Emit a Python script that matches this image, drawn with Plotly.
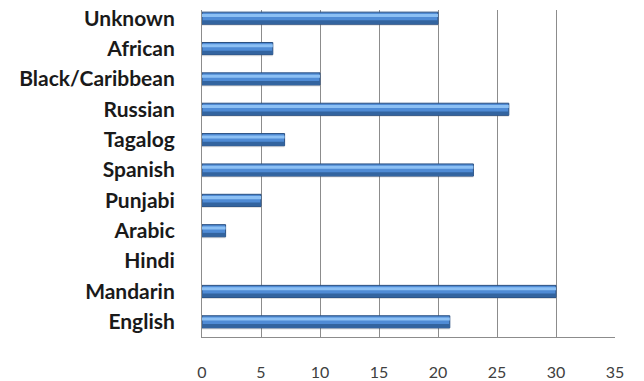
import plotly.graph_objects as go

categories = ["English", "Mandarin", "Hindi", "Arabic", "Punjabi", "Spanish",
              "Tagalog", "Russian", "Black/Caribbean", "African", "Unknown"]
values = [21, 30, 0, 2, 5, 23, 7, 26, 10, 6, 20]
x_ticks = [0, 5, 10, 15, 20, 25, 30, 35]

edge_w = [1 if v > 0 else 0 for v in values]

fig = go.Figure()
# shadow
fig.add_trace(go.Bar(y=categories, x=values, orientation="h", width=0.42, offset=-0.25,
                     marker=dict(color="rgba(120,120,120,0.22)", line=dict(width=0)),
                     hoverinfo="skip", showlegend=False))
# main body
fig.add_trace(go.Bar(y=categories, x=values, orientation="h", width=0.4, offset=-0.2,
                     marker=dict(color="#4F8BD5", line=dict(color="#2A4F80", width=edge_w)),
                     showlegend=False))
# dark lower band
fig.add_trace(go.Bar(y=categories, x=values, orientation="h", width=0.12, offset=-0.19,
                     marker=dict(color="#33649F", line=dict(width=0)),
                     hoverinfo="skip", showlegend=False))
# light highlight band
fig.add_trace(go.Bar(y=categories, x=values, orientation="h", width=0.1, offset=0.04,
                     marker=dict(color="#8CC0F4", line=dict(width=0)),
                     hoverinfo="skip", showlegend=False))

fig.update_layout(
    barmode="overlay",
    width=644, height=381,
    margin=dict(l=202, r=29, t=10, b=44),
    paper_bgcolor="white", plot_bgcolor="white",
    font=dict(family="Lato, Open Sans, sans-serif"),
)
fig.update_xaxes(range=[0, 35], tickvals=x_ticks, showgrid=True, gridcolor="#8C8C8C",
                 gridwidth=1, showline=True, linecolor="#8C8C8C", zeroline=False,
                 automargin=False, ticklabelstandoff=21,
                 tickfont=dict(size=16, color="#404040", family="Lato, sans-serif"))
fig.update_yaxes(categoryorder="array", categoryarray=categories, showgrid=False,
                 showline=True, linecolor="#8C8C8C", ticklabelstandoff=22,
                 automargin=False, range=[-0.5, 10.27],
                 tickfont=dict(size=21, color="#1a1a1a", family="Lato, sans-serif", weight="bold"))

fig.write_html("out.html")
